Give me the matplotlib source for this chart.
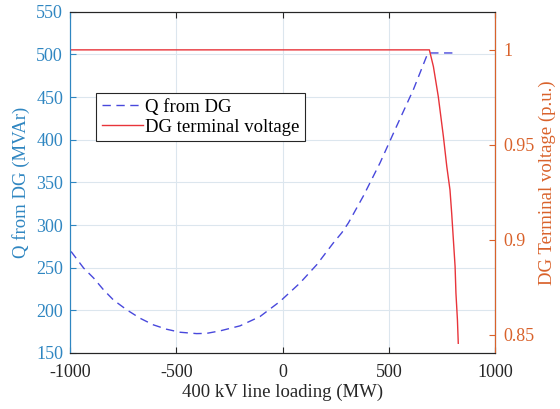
import matplotlib
matplotlib.use('Agg')
import matplotlib.pyplot as plt

plt.rcParams['font.family'] = ['Liberation Serif', 'DejaVu Serif']
plt.rcParams['font.size'] = 13.5
plt.rcParams['axes.unicode_minus'] = False

# reactive power supplied by the DG vs line loading
q_load = [-995, -936, -889, -842, -795, -733, -671, -608, -545, -482, -404,
          -357, -294, -200, -106, -12, 82, 161, 239, 279, 310, 380, 459, 537,
          616, 679, 686, 804]
q_dg = [269, 249.6, 237.9, 224, 212, 200.6, 190.8, 183, 177.8, 174.3, 172.7,
        173, 175.9, 181.8, 192.7, 210.4, 232, 253.5, 279, 291, 302.5, 333.9,
        373, 416, 459, 498.6, 501.8, 501.8]

# DG terminal voltage vs line loading
v_load = [-1000, 691, 710, 733, 757, 773, 788, 796, 804, 812, 816, 823, 827]
v_dg = [1.0, 1.0, 0.9912, 0.9754, 0.9544, 0.9386, 0.9263, 0.914, 0.9, 0.886,
        0.872, 0.858, 0.8456]

left_col = '#2f86c1'
right_col = '#d9622b'
dark = '#262626'

fig = plt.figure(figsize=(5.6, 4.09), dpi=100)
ax = fig.add_axes([0.125, 0.137, 0.759, 0.834])
ax2 = ax.twinx()

l1, = ax.plot(q_load, q_dg, '--', color='#4848dc', lw=1.0, dashes=(6, 4),
              label='Q from DG')
l2, = ax2.plot(v_load, v_dg, '-', color='#e8343a', lw=1.0,
               label='DG terminal voltage')

ax.set_xlim(-1000, 1000)
ax.set_ylim(150, 550)
ax2.set_ylim(0.8405, 1.02)
ax.set_xticks([-1000, -500, 0, 500, 1000])
ax.set_yticks(range(150, 551, 50))
ax2.set_yticks([0.85, 0.9, 0.95, 1])
ax2.set_yticklabels(['0.85', '0.9', '0.95', '1'])

ax.grid(True, color='#dce6ee', lw=0.8)
ax.set_axisbelow(True)

ax.tick_params(axis='x', direction='in', top=True, colors=dark, length=4,
               labelsize=13, pad=8)
ax.tick_params(axis='y', direction='in', colors=left_col, length=4,
               labelsize=13, pad=5)
ax2.tick_params(axis='y', direction='in', colors=right_col, length=4,
                labelsize=13, pad=6)

for s in ('top', 'bottom'):
    ax.spines[s].set_color(dark)
    ax2.spines[s].set_color(dark)
ax2.spines['left'].set_color(left_col)
ax2.spines['right'].set_color(right_col)
ax.spines['left'].set_color(left_col)

ax.set_xlabel('400 kV line loading (MW)', color=dark, labelpad=2)
ax.set_ylabel('Q from DG (MVAr)', color=left_col, labelpad=4)
ax2.set_ylabel('DG Terminal voltage (p.u.)', color=right_col, labelpad=3)

leg = ax.legend(handles=[l1, l2], loc='upper left',
                bbox_to_anchor=(0.061, 0.762), borderaxespad=0,
                fancybox=False, framealpha=1, edgecolor=dark,
                handlelength=2.2, handletextpad=0.1, borderpad=0.3,
                labelspacing=0.15, fontsize=13.5)
leg.get_frame().set_linewidth(0.8)
leg.set_zorder(10)

fig.savefig('out.png', dpi=100)
